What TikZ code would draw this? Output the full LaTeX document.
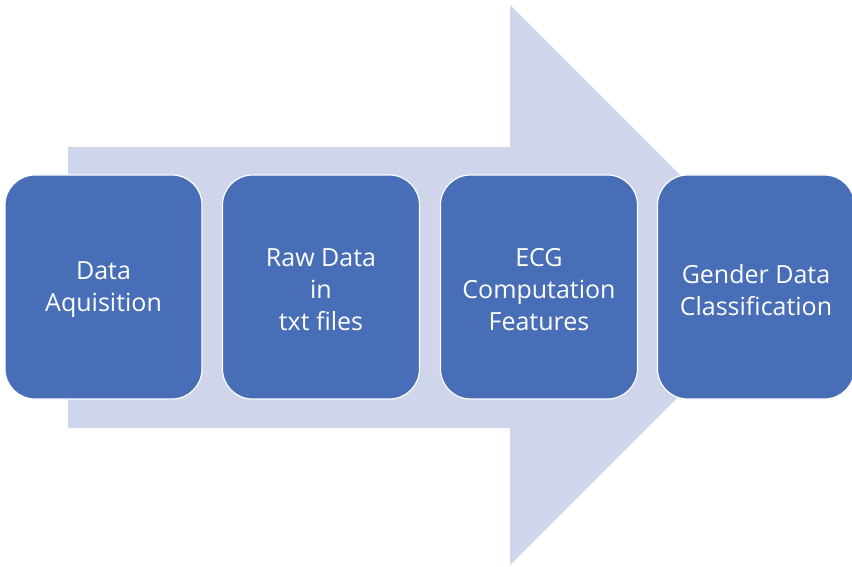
\documentclass[tikz,border=0pt]{standalone}
\usepackage{fontspec}
\setmainfont{Open Sans}
\definecolor{boxblue}{HTML}{476EB6}
\definecolor{arrowfill}{HTML}{CFD5EA}
\begin{document}
\begin{tikzpicture}[x=1pt,y=-1pt,
  stepbox/.style={draw=white,line width=1.2pt,fill=boxblue,rounded corners=30pt,
    minimum width=197pt,minimum height=224pt,inner sep=0pt},
  steptext/.style={text=white,inner sep=0pt,align=center,
    font=\fontsize{25}{32}\selectfont}]
\useasboundingbox (0,0) rectangle (852,567);
\clip (0,0) rectangle (852,567);
\fill[arrowfill] (68,147) -- (510,147) -- (510,5) -- (790,285) -- (510,565) -- (510,428) -- (68,428) -- cycle;
\node[stepbox] (a) at (103.5,287) {};
\node[stepbox] (b) at (321,287) {};
\node[stepbox] (c) at (539,287) {};
\node[stepbox] (d) at (756,287) {};
\node[steptext] (ta) at ([yshift=-3pt]a.center) {Data\\Aquisition};
\node[steptext] (tb) at ([yshift=-3pt]b.center) {Raw Data\\in\\txt files};
\node[steptext] (tc) at ([yshift=-3pt]c.center) {ECG\\Computation\\Features};
\node[steptext] (td) at ([yshift=-3pt]d.center) {Gender Data\\Classification};
\end{tikzpicture}
\end{document}
